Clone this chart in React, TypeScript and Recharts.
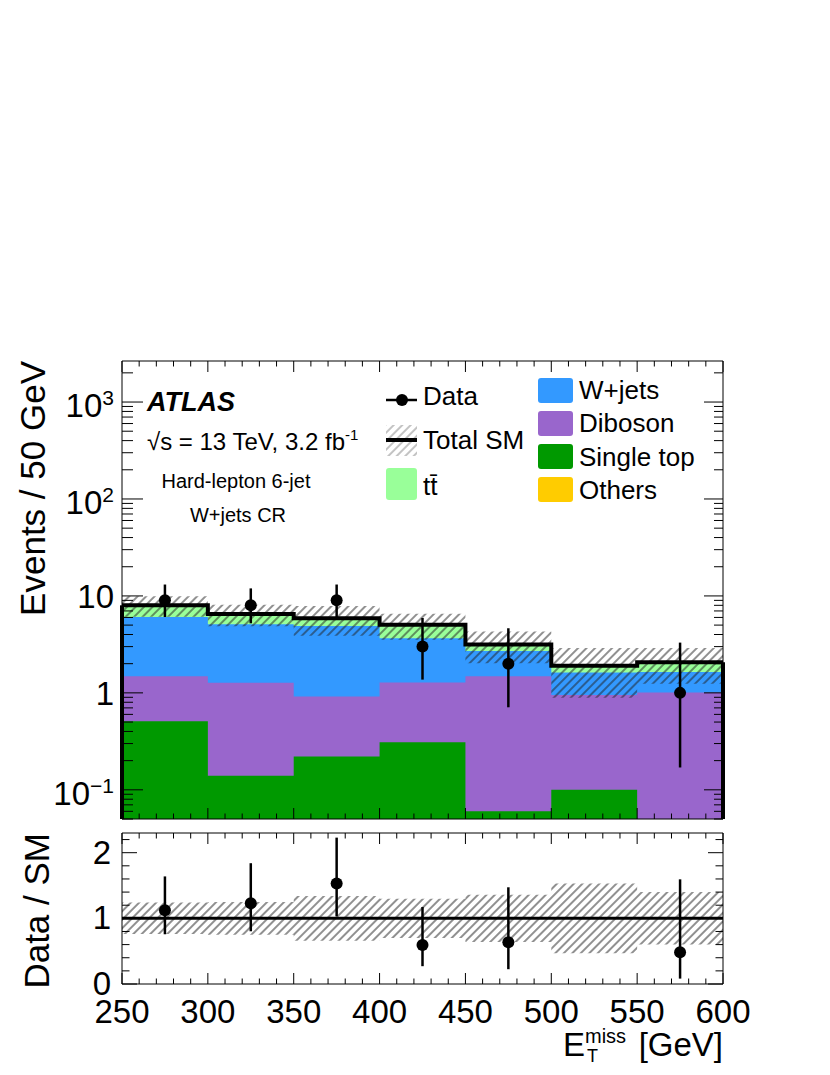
import React from 'react'
import { ComposedChart, Area, Line, Scatter, ErrorBar, XAxis, YAxis, ReferenceLine } from 'recharts'

// bin edges in ETmiss [GeV]
const binEdges = [250, 300, 350, 400, 450, 500, 550, 600]

// expected events per bin, stacked bottom -> top
const others = [0.02, 0.02, 0.02, 0.02, 0.01, 0.01, 0.01]
const singleTop = [0.49, 0.12, 0.2, 0.29, 0.05, 0.09, 0.0]
const diboson = [0.97, 1.13, 0.7, 0.97, 1.42, 0.85, 1.0]
const wjets = [4.57, 3.82, 3.97, 2.37, 1.22, 0.67, 0.63]
const ttbar = [1.95, 1.41, 0.99, 1.4, 0.45, 0.28, 0.43]

// relative uncertainty on total SM
const relUnc = [0.24, 0.25, 0.34, 0.3, 0.36, 0.53, 0.4]

// observed data with Poisson errors
const dataCounts = [9, 8, 9, 3, 2, 0, 1]
const dataErrLow = [2.94, 2.78, 2.94, 1.63, 1.29, 0, 0.83]
const dataErrHigh = [4.11, 3.96, 4.11, 2.92, 2.64, 0, 2.3]

// axes
const xMajorTicks = [250, 300, 350, 400, 450, 500, 550, 600]
const yMajorTicks = [0.1, 1, 10, 100, 1000]
const yTickBase = ['10', '1', '10', '10', '10']
const yTickExp = ['\u22121', '', '', '2', '3']
const ratioMajorTicks = [0, 1, 2]

const Y_MIN = 0.05
const Y_MAX = 2650
const R_MAX = 2.3

const FONT = '"Liberation Sans", Arial, Helvetica, sans-serif'
const colors = {
  ttbar: '#99ff99',
  wjets: '#3399ff',
  diboson: '#9966cc',
  singleTop: '#009900',
  others: '#ffcc00',
}

const nBins = binEdges.length - 1

const totals = ttbar.map((_, i) => others[i] + singleTop[i] + diboson[i] + wjets[i] + ttbar[i])

// step rows at bin edges; last edge repeats last bin
const stackRows = binEdges.map((x, e) => {
  const i = Math.min(e, nBins - 1)
  const ot = others[i]
  const st = ot + singleTop[i]
  const db = st + diboson[i]
  const wj = db + wjets[i]
  const tt = wj + ttbar[i]
  return {
    x,
    ot,
    st,
    db,
    wj,
    tt,
    band: [tt * (1 - relUnc[i]), tt * (1 + relUnc[i])],
    ratioBand: [1 - relUnc[i], 1 + relUnc[i]],
  }
})

const dataPoints = dataCounts
  .map((n, i) => ({
    x: (binEdges[i] + binEdges[i + 1]) / 2,
    y: n,
    err: [dataErrLow[i], dataErrHigh[i]],
    ratio: n / totals[i],
    ratioErr: [dataErrLow[i] / totals[i], dataErrHigh[i] / totals[i]],
  }))
  .filter((p) => p.y > 0)

const xTicks: number[] = []
for (let v = binEdges[0]; v <= binEdges[nBins]; v += 10) xTicks.push(v)

const logTicks: number[] = []
for (const d of [0.01, ...yMajorTicks]) {
  for (let m = 1; m <= 9; m++) {
    const v = +(d * m).toPrecision(3)
    if (v >= Y_MIN && v <= Y_MAX) logTicks.push(v)
  }
}

const ratioTicks: number[] = []
for (let k = 0; k * 0.2 <= R_MAX + 1e-9; k++) ratioTicks.push(+(k * 0.2).toFixed(1))

const isXMajor = (v: number) => xMajorTicks.includes(v)
const isYMajor = (v: number) => yMajorTicks.some((m) => Math.abs(v / m - 1) < 1e-6)
const isRMajor = (v: number) => ratioMajorTicks.some((m) => Math.abs(v - m) < 1e-6)

type Side = 'left' | 'right' | 'top' | 'bottom'

function tickRenderer(
  side: Side,
  isMajor: (v: number) => boolean,
  majorLen: number,
  minorLen: number,
  label?: (v: number, x: number, y: number) => React.ReactNode
) {
  return (props: any) => {
    const { x, y, payload } = props
    const v = payload.value as number
    const major = isMajor(v)
    const len = major ? majorLen : minorLen
    const dx = side === 'left' ? len : side === 'right' ? -len : 0
    const dy = side === 'top' ? len : side === 'bottom' ? -len : 0
    return (
      <g>
        <line x1={x} y1={y} x2={x + dx} y2={y + dy} stroke="#000" strokeWidth={1} />
        {major && label ? label(v, x, y) : null}
      </g>
    )
  }
}

const logLabel = (v: number, x: number, y: number) => {
  const i = yMajorTicks.findIndex((m) => Math.abs(v / m - 1) < 1e-6)
  const exp = yTickExp[i]
  return (
    <text x={x - 8} y={y + (exp ? 15 : 12)} textAnchor="end" fontSize={33} fontFamily={FONT} fill="#000">
      <tspan>{yTickBase[i]}</tspan>
      {exp ? (
        <tspan fontSize={21} dy={-12}>
          {exp}
        </tspan>
      ) : null}
    </text>
  )
}

const ratioLabel = (v: number, x: number, y: number) => (
  <text x={x - 11} y={y + 11} textAnchor="end" fontSize={33} fontFamily={FONT} fill="#000">
    {String(v)}
  </text>
)

const xLabel = (v: number, x: number, y: number) => (
  <text x={x} y={y + 39} textAnchor="middle" fontSize={33} fontFamily={FONT} fill="#000">
    {String(v)}
  </text>
)

const dot = (p: any) => <circle cx={p.cx} cy={p.cy} r={6} fill="#000" />

const xDomain = [binEdges[0], binEdges[nBins]]

function MainPlot() {
  return (
    <ComposedChart width={830} height={825} data={stackRows} margin={{ top: 360, right: 106, bottom: 5, left: 121 }}>
      <Area dataKey="tt" type="stepAfter" baseValue={Y_MIN} fill={colors.ttbar} fillOpacity={1} stroke="none" isAnimationActive={false} dot={false} activeDot={false} />
      <Area dataKey="wj" type="stepAfter" baseValue={Y_MIN} fill={colors.wjets} fillOpacity={1} stroke="none" isAnimationActive={false} dot={false} activeDot={false} />
      <Area dataKey="db" type="stepAfter" baseValue={Y_MIN} fill={colors.diboson} fillOpacity={1} stroke="none" isAnimationActive={false} dot={false} activeDot={false} />
      <Area dataKey="st" type="stepAfter" baseValue={Y_MIN} fill={colors.singleTop} fillOpacity={1} stroke="none" isAnimationActive={false} dot={false} activeDot={false} />
      <Area dataKey="ot" type="stepAfter" baseValue={Y_MIN} fill={colors.others} fillOpacity={1} stroke="none" isAnimationActive={false} dot={false} activeDot={false} />
      <Area dataKey="band" type="stepAfter" fill="url(#hatch)" fillOpacity={1} stroke="none" isAnimationActive={false} dot={false} activeDot={false} />
      <Line dataKey="tt" type="stepAfter" stroke="#000" strokeWidth={4} dot={false} activeDot={false} isAnimationActive={false} />
      <ReferenceLine segment={[{ x: binEdges[0], y: Y_MIN }, { x: binEdges[0], y: totals[0] }]} stroke="#000" strokeWidth={4} />
      <ReferenceLine segment={[{ x: binEdges[nBins], y: Y_MIN }, { x: binEdges[nBins], y: totals[nBins - 1] }]} stroke="#000" strokeWidth={4} />
      <XAxis dataKey="x" type="number" domain={xDomain} ticks={xTicks} interval={0} height={1} tickSize={0} tickMargin={0} axisLine={{ stroke: '#000' }} tick={tickRenderer('bottom', isXMajor, 11, 5.5)} allowDataOverflow />
      <XAxis xAxisId="top" orientation="top" dataKey="x" type="number" domain={xDomain} ticks={xTicks} interval={0} height={1} tickSize={0} tickMargin={0} axisLine={{ stroke: '#000' }} tick={tickRenderer('top', isXMajor, 11, 5.5)} allowDataOverflow />
      <YAxis type="number" scale="log" domain={[Y_MIN, Y_MAX]} ticks={logTicks} interval={0} width={1} tickSize={0} tickMargin={0} axisLine={{ stroke: '#000' }} tick={tickRenderer('left', isYMajor, 21, 11, logLabel)} allowDataOverflow />
      <YAxis yAxisId="right" orientation="right" type="number" scale="log" domain={[Y_MIN, Y_MAX]} ticks={logTicks} interval={0} width={1} tickSize={0} tickMargin={0} axisLine={{ stroke: '#000' }} tick={tickRenderer('right', isYMajor, 19, 9)} allowDataOverflow />
      <Scatter data={dataPoints} dataKey="y" shape={dot} isAnimationActive={false}>
        <ErrorBar dataKey="err" direction="y" width={0} stroke="#000" strokeWidth={2.5} />
      </Scatter>
    </ComposedChart>
  )
}

function RatioPlot() {
  return (
    <ComposedChart width={830} height={275} data={stackRows} margin={{ top: 32, right: 106, bottom: 90, left: 121 }}>
      <Area dataKey="ratioBand" type="stepAfter" fill="url(#hatch)" fillOpacity={1} stroke="none" isAnimationActive={false} dot={false} activeDot={false} />
      <ReferenceLine y={1} stroke="#000" strokeWidth={3} />
      <XAxis dataKey="x" type="number" domain={xDomain} ticks={xTicks} interval={0} height={1} tickSize={0} tickMargin={0} axisLine={{ stroke: '#000' }} tick={tickRenderer('bottom', isXMajor, 11, 5.5, xLabel)} allowDataOverflow />
      <XAxis xAxisId="top" orientation="top" dataKey="x" type="number" domain={xDomain} ticks={xTicks} interval={0} height={1} tickSize={0} tickMargin={0} axisLine={{ stroke: '#000' }} tick={tickRenderer('top', isXMajor, 11, 5.5)} allowDataOverflow />
      <YAxis type="number" domain={[0, R_MAX]} ticks={ratioTicks} interval={0} width={1} tickSize={0} tickMargin={0} axisLine={{ stroke: '#000' }} tick={tickRenderer('left', isRMajor, 15, 7.5, ratioLabel)} allowDataOverflow />
      <YAxis yAxisId="right" orientation="right" type="number" domain={[0, R_MAX]} ticks={ratioTicks} interval={0} width={1} tickSize={0} tickMargin={0} axisLine={{ stroke: '#000' }} tick={tickRenderer('right', isRMajor, 15, 7.5)} allowDataOverflow />
      <Scatter data={dataPoints} dataKey="ratio" shape={dot} isAnimationActive={false}>
        <ErrorBar dataKey="ratioErr" direction="y" width={0} stroke="#000" strokeWidth={2.5} />
      </Scatter>
    </ComposedChart>
  )
}

const legendRight = [
  { label: 'W+jets', color: colors.wjets },
  { label: 'Diboson', color: colors.diboson },
  { label: 'Single top', color: colors.singleTop },
  { label: 'Others', color: colors.others },
]

function Overlay() {
  return (
    <svg width={830} height={1075} style={{ position: 'absolute', left: 0, top: 0, pointerEvents: 'none' }} fontFamily={FONT}>
      {/* axis titles */}
      <text transform="translate(45,361) rotate(-90)" textAnchor="end" fontSize={35}>
        Events / 50 GeV
      </text>
      <text transform="translate(49,833) rotate(-90)" textAnchor="end" fontSize={35}>
        Data / SM
      </text>
      <text x={563} y={1056} fontSize={33}>
        E<tspan fontSize={20} dy={-13}>miss</tspan>
        <tspan x={587} y={1062} fontSize={18}>T</tspan>
      </text>
      <text x={723} y={1056} fontSize={33} textAnchor="end">[GeV]</text>

      {/* labels */}
      <text x={147} y={411} fontSize={27} fontWeight="bold" fontStyle="italic">ATLAS</text>
      <text x={147} y={450} fontSize={24}>
        √s = 13 TeV, 3.2 fb<tspan fontSize={15} dy={-10}>-1</tspan>
      </text>
      <text x={236} y={488} fontSize={20} textAnchor="middle">Hard-lepton 6-jet</text>
      <text x={238} y={522} fontSize={20} textAnchor="middle">W+jets CR</text>

      {/* legend, left column */}
      <line x1={386} y1={400} x2={417} y2={400} stroke="#000" strokeWidth={2.5} />
      <circle cx={402} cy={400} r={6} fill="#000" />
      <text x={423} y={405} fontSize={26}>Data</text>
      <rect x={386} y={425} width={31} height={31} fill="url(#hatchLight)" />
      <line x1={386} y1={440} x2={417} y2={440} stroke="#000" strokeWidth={4} />
      <text x={423} y={449} fontSize={26}>Total SM</text>
      <rect x={386} y={468} width={31} height={32} rx={3} fill={colors.ttbar} />
      <text x={423} y={495} fontSize={26}>t{'t\u0304'}</text>

      {/* legend, right column */}
      {legendRight.map((e, k) => (
        <g key={e.label}>
          <rect x={538} y={378 + k * 33} width={35} height={25} rx={3} fill={e.color} />
          <text x={579} y={399 + k * 33.3} fontSize={26}>{e.label}</text>
        </g>
      ))}
    </svg>
  )
}

export default function App() {
  return (
    <div style={{ position: 'absolute', left: 0, top: 0, width: 830, height: 1075, background: '#fff', fontFamily: FONT }}>
      <svg width={0} height={0} style={{ position: 'absolute' }}>
        <defs>
          <pattern id="hatch" width={6} height={6} patternUnits="userSpaceOnUse" patternTransform="rotate(45)">
            <line x1={3} y1={0} x2={3} y2={6} stroke="#222" strokeWidth={1} />
          </pattern>
          <pattern id="hatchLight" width={6} height={6} patternUnits="userSpaceOnUse" patternTransform="rotate(45)">
            <line x1={3} y1={0} x2={3} y2={6} stroke="#888" strokeWidth={1} />
          </pattern>
        </defs>
      </svg>
      <div style={{ position: 'absolute', left: 0, top: 0 }}>
        <MainPlot />
      </div>
      <div style={{ position: 'absolute', left: 0, top: 800 }}>
        <RatioPlot />
      </div>
      <Overlay />
    </div>
  )
}
